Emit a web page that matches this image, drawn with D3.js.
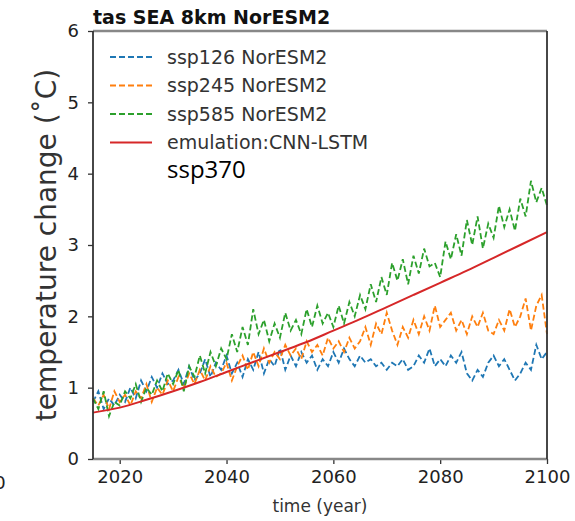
<!DOCTYPE html>
<html>
<head>
<meta charset="utf-8">
<script src="https://cdn.jsdelivr.net/npm/d3@7"></script>
<style>
  html, body { margin: 0; padding: 0; background: #fff; }
  svg { display: block; }
</style>
</head>
<body>
<svg id="chart" width="575" height="521"></svg>
<script>
// Regional mean near-surface temperature change, SEA domain, NorESM2
const years = d3.range(2015, 2101);

const ssp126 = [0.80,0.95,0.70,0.85,0.75,0.90,0.80,1.00,0.85,1.10,
  0.95,1.15,1.00,1.20,1.05,1.10,1.25,1.05,1.30,1.10,
  1.20,1.40,1.15,1.35,1.25,1.45,1.20,1.35,1.15,1.40,
  1.25,1.50,1.20,1.40,1.30,1.55,1.25,1.45,1.30,1.50,
  1.35,1.45,1.25,1.40,1.30,1.50,1.35,1.55,1.40,1.30,
  1.45,1.35,1.40,1.30,1.35,1.25,1.35,1.30,1.40,1.25,
  1.30,1.45,1.35,1.55,1.30,1.40,1.30,1.45,1.35,1.50,
  1.20,1.10,1.25,1.15,1.35,1.45,1.30,1.40,1.25,1.10,
  1.20,1.35,1.25,1.60,1.40,1.50];

const ssp245 = [0.85,0.75,0.90,0.70,0.95,0.80,0.90,0.75,0.95,0.85,
  1.05,0.80,1.00,0.90,1.10,0.95,1.15,1.00,1.20,1.05,
  1.25,1.10,1.30,1.15,1.20,1.35,1.10,1.30,1.45,1.25,
  1.50,1.30,1.55,1.35,1.50,1.40,1.60,1.45,1.55,1.40,
  1.65,1.50,1.60,1.45,1.70,1.55,1.65,1.50,1.70,1.55,
  1.65,1.85,1.60,1.90,1.75,2.05,1.80,1.60,1.85,1.70,
  1.95,1.75,2.00,1.80,2.15,1.85,1.95,2.05,1.80,1.95,
  1.75,2.00,1.85,2.05,1.80,1.75,1.95,1.80,2.10,1.85,
  2.00,2.25,1.80,2.15,2.30,1.75];

const ssp585 = [0.85,0.70,0.95,0.60,0.80,0.75,0.95,0.85,1.05,0.80,
  1.00,0.90,1.10,0.95,1.20,1.05,1.25,0.95,1.30,1.15,
  1.45,1.20,1.50,1.30,1.55,1.40,1.75,1.50,1.85,1.60,
  2.10,1.75,1.95,1.65,1.90,1.70,2.05,1.80,1.95,1.75,
  2.10,1.85,2.15,1.90,2.05,1.85,2.15,1.90,2.20,2.00,
  2.30,2.10,2.45,2.20,2.55,2.30,2.75,2.50,2.80,2.45,
  2.85,2.60,2.95,2.70,2.75,2.55,3.05,2.80,3.15,2.85,
  3.35,3.00,3.40,2.95,3.30,3.10,3.55,3.25,3.50,3.20,
  3.65,3.40,3.90,3.60,3.80,3.55];

// CNN-LSTM emulation for ssp370 (smooth curve)
const emuYears = [2015,2020,2025,2030,2035,2040,2045,2050,2055,2060,2065,2070,2075,2080,2085,2090,2095,2100];
const emulation = [0.65,0.72,0.83,0.95,1.08,1.22,1.36,1.50,1.64,1.80,1.96,2.13,2.30,2.47,2.64,2.82,3.00,3.18];

const xTicks = [2020, 2040, 2060, 2080, 2100];
const yTicks = [0, 1, 2, 3, 4, 5, 6];

const seriesNames = ["ssp126 NorESM2", "ssp245 NorESM2", "ssp585 NorESM2", "emulation:CNN-LSTM"];
const seriesColors = ["#1f77b4", "#ff7f0e", "#2ca02c", "#d62728"];

const svg = d3.select("#chart");
const box = { left: 93, right: 547, top: 31, bottom: 459 };

const x = d3.scaleLinear().domain([2015, 2100]).range([box.left, box.right]);
const y = d3.scaleLinear().domain([0, 6]).range([box.bottom, box.top]);

const font = "'DejaVu Sans', sans-serif";

// data lines
const line = d3.line().x((d) => x(d[0])).y((d) => y(d[1]));
const dashed = [ssp126, ssp245, ssp585];
dashed.forEach((vals, i) => {
  svg.append("path")
    .datum(years.map((yr, j) => [yr, vals[j]]))
    .attr("d", line)
    .attr("fill", "none")
    .attr("stroke", seriesColors[i])
    .attr("stroke-width", 1.8)
    .attr("stroke-dasharray", "6,3");
});
svg.append("path")
  .datum(emuYears.map((yr, j) => [yr, emulation[j]]))
  .attr("d", line.curve(d3.curveMonotoneX))
  .attr("fill", "none")
  .attr("stroke", seriesColors[3])
  .attr("stroke-width", 2);

// axes
const xAxis = svg.append("g")
  .attr("transform", `translate(0,${box.bottom})`)
  .call(d3.axisBottom(x).tickValues(xTicks).tickFormat(d3.format("d")).tickSize(5).tickPadding(6));
const yAxis = svg.append("g")
  .attr("transform", `translate(${box.left},0)`)
  .call(d3.axisLeft(y).tickValues(yTicks).tickFormat(d3.format("d")).tickSize(5).tickPadding(9));
[xAxis, yAxis].forEach((g) => {
  g.select(".domain").remove();
  g.selectAll(".tick line").attr("stroke", "#333").attr("stroke-width", 1.3);
  g.selectAll(".tick text").attr("font-family", font).attr("font-size", 18).attr("fill", "#222");
});

// frame
svg.append("line").attr("x1", box.left).attr("x2", box.right).attr("y1", box.top).attr("y2", box.top)
  .attr("stroke", "#888").attr("stroke-width", 2.6);
svg.append("line").attr("x1", box.left).attr("x2", box.right).attr("y1", box.bottom).attr("y2", box.bottom)
  .attr("stroke", "#888").attr("stroke-width", 2.6);
svg.append("line").attr("x1", box.left).attr("x2", box.left).attr("y1", box.top).attr("y2", box.bottom)
  .attr("stroke", "#333").attr("stroke-width", 1.8);
svg.append("line").attr("x1", box.right).attr("x2", box.right).attr("y1", box.top).attr("y2", box.bottom)
  .attr("stroke", "#333").attr("stroke-width", 1.8);

// legend
const legend = svg.append("g");
seriesNames.forEach((name, i) => {
  const ly = 57 + i * 28.5;
  legend.append("line")
    .attr("x1", 110).attr("x2", 152).attr("y1", ly).attr("y2", ly)
    .attr("stroke", seriesColors[i])
    .attr("stroke-width", i === 3 ? 2 : 1.8)
    .attr("stroke-dasharray", i === 3 ? null : "6,3");
  legend.append("text")
    .attr("x", 167).attr("y", ly).attr("dy", "0.35em")
    .attr("font-family", font).attr("font-size", 19).attr("fill", "#333")
    .text(name);
});

// annotation of the emulated scenario
svg.append("text")
  .attr("x", 167).attr("y", 178)
  .attr("font-family", "'Open Sans', 'Noto Sans', sans-serif").attr("font-size", 24).attr("fill", "#000")
  .text("ssp370");

// title and axis labels
svg.append("text")
  .attr("x", box.left).attr("y", 24)
  .attr("font-family", font).attr("font-size", 19).attr("font-weight", "bold").attr("fill", "#111")
  .text("tas SEA 8km NorESM2");

svg.append("text")
  .attr("x", (box.left + box.right) / 2).attr("y", 512)
  .attr("text-anchor", "middle")
  .attr("font-family", font).attr("font-size", 17).attr("fill", "#333")
  .text("time (year)");

svg.append("text")
  .attr("transform", `translate(56,${(box.top + box.bottom) / 2}) rotate(-90)`)
  .attr("text-anchor", "middle")
  .attr("font-family", font).attr("font-size", 28).attr("fill", "#333")
  .text("temperature change (˚C)");

// clipped tick label from a neighbouring panel
svg.append("text")
  .attr("x", 0).attr("y", 489)
  .attr("text-anchor", "middle")
  .attr("font-family", font).attr("font-size", 18).attr("fill", "#222")
  .text("0");
</script>
</body>
</html>
